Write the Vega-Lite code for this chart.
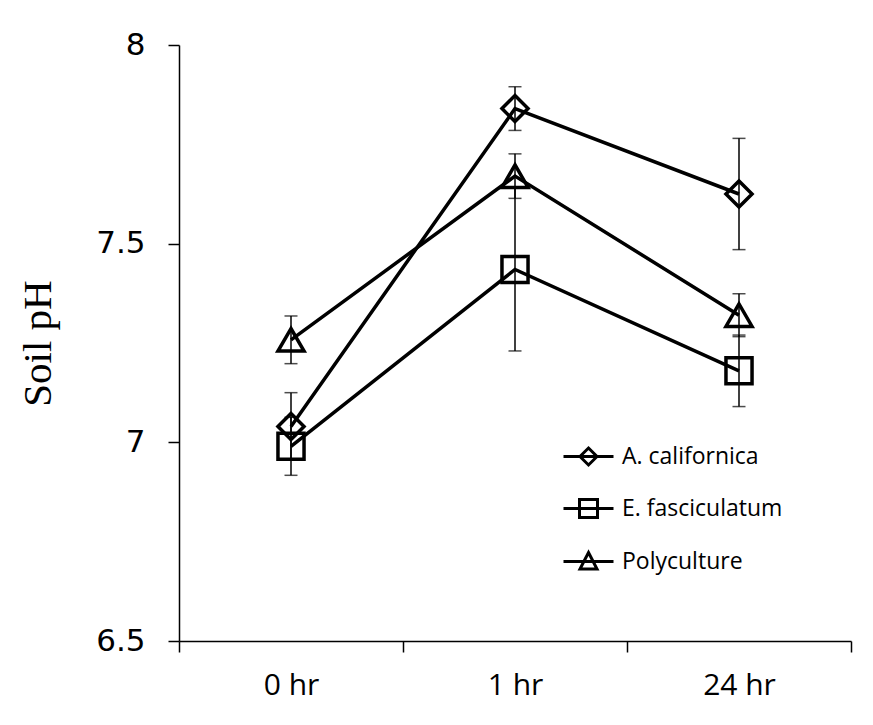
{
  "$schema": "https://vega.github.io/schema/vega-lite/v6.json",
  "width": 672,
  "height": 596,
  "autosize": "none",
  "padding": {"left": 179, "top": 45, "right": 22, "bottom": 84},
  "background": "white",
  "config": {
    "view": {"stroke": null},
    "axis": {
      "domainColor": "black",
      "domainWidth": 1.5,
      "tickColor": "black",
      "tickWidth": 1.5,
      "tickSize": 11,
      "grid": false,
      "labelColor": "black",
      "titleColor": "black"
    }
  },
  "data": {
    "values": [
      {"species": "A. californica", "time": "0 hr", "ph": 7.04, "lo": 6.955, "hi": 7.125},
      {"species": "A. californica", "time": "1 hr", "ph": 7.84, "lo": 7.785, "hi": 7.895},
      {"species": "A. californica", "time": "24 hr", "ph": 7.625, "lo": 7.485, "hi": 7.765},
      {"species": "E. fasciculatum", "time": "0 hr", "ph": 6.99, "lo": 6.917, "hi": 7.063},
      {"species": "E. fasciculatum", "time": "1 hr", "ph": 7.435, "lo": 7.23, "hi": 7.64},
      {"species": "E. fasciculatum", "time": "24 hr", "ph": 7.18, "lo": 7.09, "hi": 7.27},
      {"species": "Polyculture", "time": "0 hr", "ph": 7.258, "lo": 7.198, "hi": 7.318},
      {"species": "Polyculture", "time": "1 hr", "ph": 7.67, "lo": 7.614, "hi": 7.726},
      {"species": "Polyculture", "time": "24 hr", "ph": 7.32, "lo": 7.266, "hi": 7.374}
    ]
  },
  "encoding": {
    "x": {
      "field": "time",
      "type": "nominal",
      "sort": ["0 hr", "1 hr", "24 hr"],
      "scale": {"type": "band", "paddingInner": 0, "paddingOuter": 0},
      "axis": {
        "title": null,
        "labelAngle": 0,
        "tickBand": "extent",
        "labelFont": "Open Sans",
        "labelFontSize": 30,
        "labelPadding": 18
      }
    }
  },
  "resolve": {"scale": {"shape": "independent"}, "legend": {"shape": "independent"}},
  "layer": [
    {
      "mark": {"type": "line", "color": "black", "strokeWidth": 3.5},
      "encoding": {
        "y": {
          "field": "ph",
          "type": "quantitative",
          "scale": {"domain": [6.5, 8], "nice": false, "zero": false},
          "axis": {
            "title": "Soil pH",
            "titleFont": "Liberation Serif",
            "titleFontSize": 41,
            "titleFontWeight": "normal",
            "titlePadding": 36,
            "values": [6.5, 7, 7.5, 8],
            "labelExpr": "datum.value + ''",
            "labelFont": "DejaVu Sans",
            "labelFontSize": 31,
            "labelPadding": 23
          }
        },
        "detail": {"field": "species"}
      }
    },
    {
      "mark": {"type": "rule", "color": "black", "strokeWidth": 1.5},
      "encoding": {
        "y": {"field": "lo", "type": "quantitative"},
        "y2": {"field": "hi"},
        "detail": {"field": "species"}
      }
    },
    {
      "mark": {"type": "tick", "color": "black", "thickness": 1.5, "size": 13},
      "encoding": {"y": {"field": "lo", "type": "quantitative"}}
    },
    {
      "mark": {"type": "tick", "color": "black", "thickness": 1.5, "size": 13},
      "encoding": {"y": {"field": "hi", "type": "quantitative"}}
    },
    {
      "mark": {"type": "point", "filled": false, "strokeWidth": 3.5, "color": "black", "opacity": 1, "size": 680},
      "encoding": {
        "y": {"field": "ph", "type": "quantitative"},
        "shape": {
          "field": "species",
          "type": "nominal",
          "scale": {
            "domain": ["A. californica", "E. fasciculatum", "Polyculture"],
            "range": ["diamond", "square", "triangle-up"]
          },
          "legend": null
        }
      }
    },
    {
      "mark": {"type": "point", "filled": false, "strokeWidth": 3, "color": "black", "opacity": 0, "size": 10},
      "encoding": {
        "y": {"field": "ph", "type": "quantitative"},
        "shape": {
          "field": "species",
          "type": "nominal",
          "scale": {
            "domain": ["A. californica", "E. fasciculatum", "Polyculture"],
            "range": [
              "M-1,0H1M0,-0.34L0.34,0L0,0.34L-0.34,0Z",
              "M-1,0H1M-0.36,-0.36H0.36V0.36H-0.36Z",
              "M-1,0H1M0,-0.36L0.34,0.3H-0.34Z"
            ]
          },
          "legend": {
            "title": null,
            "orient": "none",
            "legendX": 383,
            "legendY": 385,
            "symbolSize": 2500,
            "symbolStrokeColor": "black",
            "symbolStrokeWidth": 3,
            "symbolFillColor": "transparent",
            "symbolOpacity": 1,
            "labelFont": "Open Sans",
            "labelFontSize": 23,
            "labelColor": "black",
            "labelOffset": 7,
            "labelLimit": 0,
            "rowPadding": 11,
            "encode": {
              "symbols": {
                "update": {
                  "size": {"value": 2500},
                  "stroke": {"value": "black"},
                  "strokeWidth": {"value": 3.2},
                  "fill": {"value": "transparent"},
                  "opacity": {"value": 1},
                  "strokeOpacity": {"value": 1}
                }
              }
            }
          }
        }
      }
    }
  ]
}
